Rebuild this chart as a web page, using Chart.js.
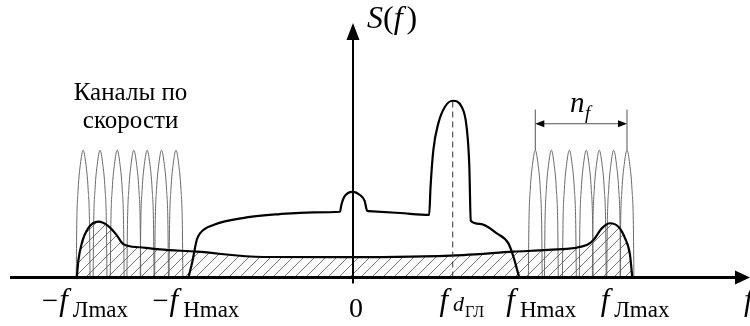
<!DOCTYPE html>
<html lang="ru">
<head>
<meta charset="UTF-8">
<title>S(f)</title>
<script src="https://cdn.jsdelivr.net/npm/chart.js"></script>
<style>
  html, body { margin: 0; padding: 0; background: #fff; }
  #spectrum { display: block; }
</style>
</head>
<body>
<canvas id="spectrum" width="750" height="326"></canvas>
<script>
// frequency: % of f_Лmax, amplitude: % of the main (ГЛ) peak
const tickValues = [-100, -60, 0, 36, 60, 100];
const tickSigns  = ['−', '−', '', '', '', ''];
const tickSubs   = ['Лmax', 'Нmax', '', 'd', 'Нmax', 'Лmax'];

// main spectrum (bold, unfilled)
const mainX = [-59.4, -58, -56.4, -55.2, -50.4, -38.4, -26.4, -14.3, -4.7, -4.2, -3.2, -1.8, 0, 2.5, 4.2, 5.1,
               5.6, 17, 27.5, 28, 29, 30.8, 33.2, 36, 39.2, 41, 42, 42.5, 45.8, 51.9, 56.1, 57.9, 60];
const mainY = [0, 8.8, 21.2, 25, 29.7, 34, 35.9, 36.9, 37.2, 41, 45.5, 47.8, 48.5, 46.7, 43.3, 37.8,
               37.6, 36.5, 35.4, 51.4, 72.1, 87.2, 96.6, 100, 96.6, 85.3, 62.7, 32.1, 30.3, 25, 19.3, 11.8, 0];

// lower (hatched) spectrum
const lowX = [-99.7, -99.1, -97.9, -95.6, -91.9, -88.3, -85.3, -82.9, -76.9, -69.7, -56.4, -32.4, 0,
              39.8, 57.9, 70.5, 84.4, 86.8, 89.8, 92.8, 95.8, 98.2, 100, 100.8];
const lowY = [0, 9.9, 19.3, 27.8, 31.6, 29.1, 24, 18.9, 17.1, 15.9, 14.6, 11.6, 11.5,
              12.7, 14.6, 15.6, 18.4, 21.2, 27.8, 30.7, 28.7, 22.2, 12.7, 0];

// speed channels: centres and one channel's shape
const leftChannels  = [-97.4, -91.3, -85.1, -79.1, -74.3, -69.1, -63.9];
const rightChannels = [65.8, 71.6, 78.1, 84.2, 88.9, 94.1, 98.9];
const channelDx = [-2.5, -2.3, -1.8, -1.0, 0, 1.0, 1.8, 2.3, 2.5];
const channelY  = [0, 30, 50, 64, 72, 64, 50, 30, 0];

const dopplerX = 36;      // f_dГЛ
const dopplerPeak = 100;
const nfLevel = 87;       // height of the n_f dimension line
const nfTop = 95;

const serif = '"Liberation Serif", "Times New Roman", serif';

function toPoints(xs, ys) {
  return xs.map((v, i) => ({ x: v, y: ys[i] }));
}

// diagonal hatching
const pc = document.createElement('canvas');
pc.width = 11; pc.height = 11;
const pctx = pc.getContext('2d');
pctx.strokeStyle = '#555';
pctx.lineWidth = 0.8;
pctx.beginPath();
pctx.moveTo(0, 11); pctx.lineTo(11, 0);
pctx.moveTo(-1, 1); pctx.lineTo(1, -1);
pctx.moveTo(10, 12); pctx.lineTo(12, 10);
pctx.stroke();
const hatch = pctx.createPattern(pc, 'repeat');

const datasets = [];
datasets.push({
  data: toPoints(mainX, mainY), borderColor: '#000', borderWidth: 2.2,
  cubicInterpolationMode: 'monotone', fill: false, order: 1
});
datasets.push({
  data: [{ x: dopplerX, y: 0 }, { x: dopplerX, y: dopplerPeak }], borderColor: '#333',
  borderWidth: 1, borderDash: [6, 4], fill: false, order: 1
});
datasets.push({
  data: toPoints(lowX, lowY), borderColor: '#000', borderWidth: 2.2,
  cubicInterpolationMode: 'monotone', fill: 'origin', backgroundColor: hatch, order: 2
});
leftChannels.concat(rightChannels).forEach(c => {
  datasets.push({
    data: toPoints(channelDx.map(d => c + d), channelY), borderColor: '#6a6a6a', borderWidth: 1,
    cubicInterpolationMode: 'monotone', fill: false, order: 3
  });
});

function drawRich(ctx, cx, parts) {
  let w = 0;
  parts.forEach(p => { ctx.font = p[1]; p.w = ctx.measureText(p[0]).width; w += p.w + (p[3] || 0); });
  let xx = cx - w / 2;
  parts.forEach(p => { ctx.font = p[1]; ctx.fillText(p[0], xx, p[2]); xx += p.w + (p[3] || 0); });
}

const decor = {
  id: 'decor',
  afterDraw(chart) {
    const { ctx, chartArea, scales: { x, y } } = chart;
    const x0 = x.getPixelForValue(0);
    const y0 = y.getPixelForValue(0);
    ctx.save();
    ctx.fillStyle = '#000';
    ctx.strokeStyle = '#000';

    // axes
    ctx.lineWidth = 2.8;
    ctx.beginPath(); ctx.moveTo(chartArea.left, y0); ctx.lineTo(chartArea.right - 10, y0); ctx.stroke();
    ctx.beginPath();
    ctx.moveTo(chartArea.right, y0); ctx.lineTo(chartArea.right - 15, y0 - 7); ctx.lineTo(chartArea.right - 15, y0 + 7);
    ctx.closePath(); ctx.fill();
    ctx.lineWidth = 2;
    ctx.beginPath(); ctx.moveTo(x0, y0 + 6); ctx.lineTo(x0, chartArea.top + 10); ctx.stroke();
    ctx.beginPath();
    ctx.moveTo(x0, chartArea.top); ctx.lineTo(x0 - 6.5, chartArea.top + 17); ctx.lineTo(x0 + 6.5, chartArea.top + 17);
    ctx.closePath(); ctx.fill();

    // tick labels
    ctx.textBaseline = 'alphabetic';
    const nudge = [9, 9, 3, 9, 22, 5];
    const fIt = 'italic 31px ' + serif;
    const sub = '23px ' + serif;
    tickValues.forEach((v, i) => {
      const cx = x.getPixelForValue(v) + nudge[i];
      if (v === 0) {
        drawRich(ctx, cx, [['0', '28px ' + serif, 317]]);
      } else if (tickSubs[i] === 'd') {
        drawRich(ctx, cx, [['f', fIt, 310, 5], ['d', 'italic 22px ' + serif, 311, 1], ['ГЛ', '16px ' + serif, 317]]);
      } else {
        const parts = [];
        if (tickSigns[i]) parts.push([tickSigns[i], '29px ' + serif, 310, 1]);
        parts.push(['f', fIt, 310, 5]);
        parts.push([tickSubs[i], sub, 317]);
        drawRich(ctx, cx, parts);
      }
    });
    // cut "f" at the end of the axis
    ctx.font = fIt;
    ctx.fillText('f', chartArea.right - 6, 310);

    // S(f)
    ctx.textAlign = 'left';
    let sx = x0 + 14;
    [['S', 'italic 32px '], ['(', '32px '], ['f', 'italic 32px '], [')', '32px ']].forEach((p, i) => {
      ctx.font = p[1] + serif;
      ctx.fillText(p[0], sx, 28);
      sx += ctx.measureText(p[0]).width + (i === 2 ? 4 : 0);
    });

    // caption
    ctx.textAlign = 'center';
    ctx.font = '25px ' + serif;
    const capX = x.getPixelForValue((leftChannels[0] + leftChannels[leftChannels.length - 1]) / 2) + 1;
    ctx.fillText('Каналы по', capX, 100);
    ctx.fillText('скорости', capX, 128);

    // n_f dimension
    const ax = x.getPixelForValue(rightChannels[0]);
    const bx = x.getPixelForValue(rightChannels[rightChannels.length - 1]);
    const ly = y.getPixelForValue(nfLevel);
    ctx.strokeStyle = '#555';
    ctx.lineWidth = 1;
    ctx.beginPath();
    ctx.moveTo(ax, y.getPixelForValue(nfTop)); ctx.lineTo(ax, y.getPixelForValue(channelY[4]));
    ctx.moveTo(bx, y.getPixelForValue(nfTop)); ctx.lineTo(bx, y.getPixelForValue(channelY[4]));
    ctx.moveTo(ax + 6, ly); ctx.lineTo(bx - 6, ly);
    ctx.stroke();
    ctx.fillStyle = '#000';
    ctx.beginPath(); ctx.moveTo(ax, ly); ctx.lineTo(ax + 9, ly - 3.5); ctx.lineTo(ax + 9, ly + 3.5); ctx.closePath(); ctx.fill();
    ctx.beginPath(); ctx.moveTo(bx, ly); ctx.lineTo(bx - 9, ly - 3.5); ctx.lineTo(bx - 9, ly + 3.5); ctx.closePath(); ctx.fill();
    ctx.textAlign = 'left';
    ctx.font = 'italic 29px ' + serif;
    ctx.fillText('n', 570, 112);
    ctx.font = 'italic 19px ' + serif;
    ctx.fillText('f', 585, 119);
    ctx.restore();
  }
};

new Chart(document.getElementById('spectrum'), {
  type: 'line',
  data: { datasets },
  options: {
    responsive: false,
    animation: false,
    layout: { padding: { left: 10, right: 0, top: 23, bottom: 48.5 } },
    plugins: { legend: { display: false }, tooltip: { enabled: false } },
    elements: { point: { radius: 0 } },
    scales: {
      x: { type: 'linear', min: -123.8, max: 143.3, display: false },
      y: { min: 0, max: 144, display: false }
    }
  },
  plugins: [decor]
});
</script>
</body>
</html>
